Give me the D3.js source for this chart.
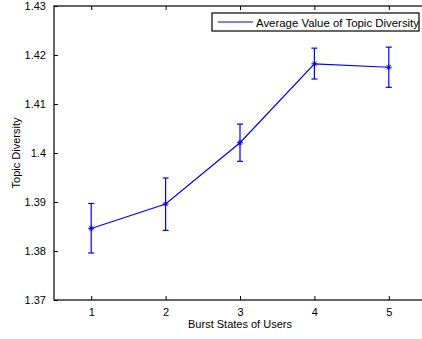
<!DOCTYPE html>
<html>
<head>
<meta charset="utf-8">
<script src="https://cdn.jsdelivr.net/npm/d3@7"></script>
<style>
  body { margin: 0; background: #fff; overflow: hidden; }
  svg { display: block; font-family: "Liberation Sans", Arial, sans-serif; }
</style>
</head>
<body>
<div id="chart"></div>
<script>
const width = 422,
      height = 339,
      margin = { top: 6, right: -4, bottom: 39, left: 54 };

const states = [1, 2, 3, 4, 5];
const avgDiversity = [1.3846, 1.3896, 1.4021, 1.4182, 1.4175];
const errLow = [1.3796, 1.3842, 1.3983, 1.4151, 1.4134];
const errHigh = [1.3897, 1.3949, 1.4059, 1.4214, 1.4216];
const xTicks = [1, 2, 3, 4, 5];
const yTicks = [1.37, 1.38, 1.39, 1.40, 1.41, 1.42, 1.43];

const blue = '#0000ff';

const x = d3.scaleLinear().domain([0.5, 5.5]).range([margin.left, width - margin.right]);
const y = d3.scaleLinear().domain([1.37, 1.43]).range([height - margin.bottom, margin.top]);

const svg = d3.select('#chart').append('svg')
    .attr('width', width)
    .attr('height', height);

const x0 = margin.left, x1 = width - margin.right;
const y0 = height - margin.bottom, y1 = margin.top;

// axes box with inward ticks
const fmtY = d => d === 1.4 ? '1.4' : d3.format('.2f')(d);

svg.append('g')
    .attr('transform', `translate(0,${y0})`)
    .call(d3.axisBottom(x).tickValues(xTicks).tickSizeInner(-4).tickSizeOuter(0).tickPadding(8).tickFormat(d3.format('d')))
    .call(g => g.select('.domain').remove());

svg.append('g')
    .attr('transform', `translate(0,${y1})`)
    .call(d3.axisTop(x).tickValues(xTicks).tickSizeInner(-4).tickSizeOuter(0).tickFormat(''))
    .call(g => g.select('.domain').remove());

svg.append('g')
    .attr('transform', `translate(${x0},0)`)
    .call(d3.axisLeft(y).tickValues(yTicks).tickSizeInner(-4).tickSizeOuter(0).tickPadding(8).tickFormat(fmtY))
    .call(g => g.select('.domain').remove());

svg.selectAll('.tick text').attr('font-size', 11).attr('fill', '#000').attr('font-family', '"Liberation Sans", Arial, sans-serif');
svg.selectAll('.tick line').attr('stroke', '#000');

svg.append('rect')
    .attr('x', x0).attr('y', y1)
    .attr('width', x1 - x0).attr('height', y0 - y1)
    .attr('fill', 'none').attr('stroke', '#000').attr('stroke-width', 1.2);

// error bars
const eb = svg.append('g').attr('stroke', blue).attr('stroke-width', 1.2);
states.forEach((s, i) => {
    const cx = x(s);
    eb.append('line').attr('x1', cx).attr('x2', cx).attr('y1', y(errLow[i])).attr('y2', y(errHigh[i]));
    eb.append('line').attr('x1', cx - 3).attr('x2', cx + 3).attr('y1', y(errLow[i])).attr('y2', y(errLow[i]));
    eb.append('line').attr('x1', cx - 3).attr('x2', cx + 3).attr('y1', y(errHigh[i])).attr('y2', y(errHigh[i]));
});

// line
const line = d3.line().x((d, i) => x(states[i])).y(d => y(d));
svg.append('path')
    .datum(avgDiversity)
    .attr('d', line)
    .attr('fill', 'none')
    .attr('stroke', blue)
    .attr('stroke-width', 1.2);

// asterisk markers
const star = svg.append('g').attr('stroke', blue).attr('stroke-width', 1);
avgDiversity.forEach((v, i) => {
    const cx = x(states[i]), cy = y(v), r = 3;
    star.append('line').attr('x1', cx - r).attr('x2', cx + r).attr('y1', cy).attr('y2', cy);
    star.append('line').attr('x1', cx).attr('x2', cx).attr('y1', cy - r).attr('y2', cy + r);
    star.append('line').attr('x1', cx - r * 0.7).attr('x2', cx + r * 0.7).attr('y1', cy - r * 0.7).attr('y2', cy + r * 0.7);
    star.append('line').attr('x1', cx - r * 0.7).attr('x2', cx + r * 0.7).attr('y1', cy + r * 0.7).attr('y2', cy - r * 0.7);
});

// axis labels
svg.append('text')
    .attr('x', 240).attr('y', 328)
    .attr('text-anchor', 'middle')
    .attr('font-size', 11)
    .text('Burst States of Users');

svg.append('text')
    .attr('transform', `translate(20,${(y0 + y1) / 2}) rotate(-90)`)
    .attr('text-anchor', 'middle')
    .attr('font-size', 11)
    .text('Topic Diversity');

// legend (text runs right up to the box border, as in the original)
const legend = svg.append('g').attr('transform', 'translate(212,13)');
legend.append('rect')
    .attr('width', 207).attr('height', 18)
    .attr('fill', '#fff').attr('stroke', '#000').attr('stroke-width', 1.2);
legend.append('line')
    .attr('x1', 6).attr('x2', 41).attr('y1', 9).attr('y2', 9)
    .attr('stroke', blue).attr('stroke-width', 1.2);
legend.append('text')
    .attr('x', 44).attr('y', 13.5)
    .attr('font-size', 11.5)
    .attr('textLength', 163)
    .attr('lengthAdjust', 'spacingAndGlyphs')
    .text('Average Value of Topic Diversity');
</script>
</body>
</html>
